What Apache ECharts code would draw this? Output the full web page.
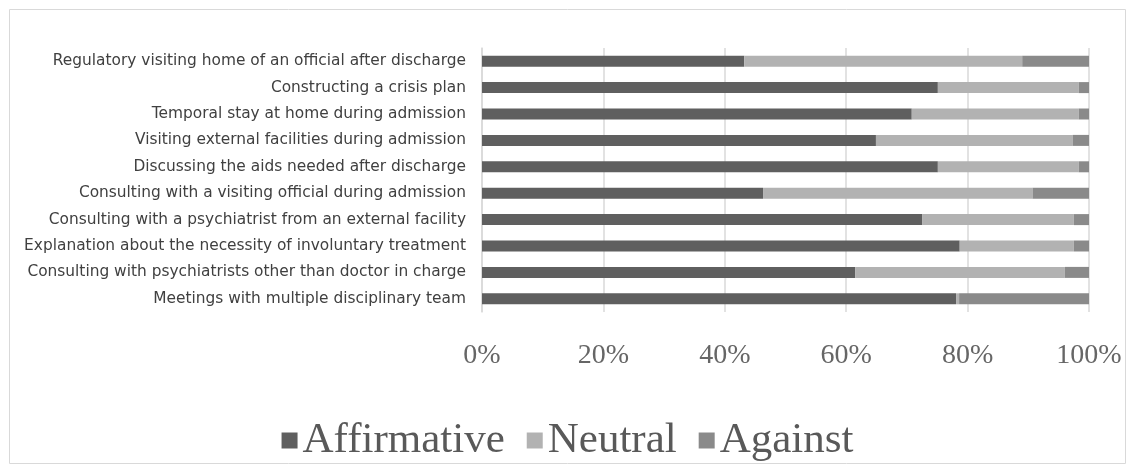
<!DOCTYPE html>
<html>
<head>
<meta charset="utf-8">
<script src="https://cdn.jsdelivr.net/npm/echarts@6/dist/echarts.min.js"></script>
<style>
  html, body { margin: 0; padding: 0; background: #fff; }
  #main { width: 1135px; height: 473px; }
</style>
</head>
<body>
<div id="main"></div>
<script>
var categories = [
    'Regulatory visiting home of an official after discharge',
    'Constructing a crisis plan',
    'Temporal stay at home during admission',
    'Visiting external facilities during admission',
    'Discussing the aids needed after discharge',
    'Consulting with a visiting official during admission',
    'Consulting with a psychiatrist from an external facility',
    'Explanation about the necessity of involuntary treatment',
    'Consulting with psychiatrists other than doctor in charge',
    'Meetings with multiple disciplinary team'
];

// percentages
var affirmative = [43.2, 75.1, 70.8, 64.9, 75.1, 46.3, 72.5, 78.7, 61.5, 78.1];
var neutral     = [45.8, 23.2, 27.5, 32.4, 23.2, 44.4, 25.0, 18.8, 34.5, 0.5];
var against     = [11.0, 1.7, 1.7, 2.7, 1.7, 9.3, 2.5, 2.5, 4.0, 21.4];

var seriesNames = ['Affirmative', 'Neutral', 'Against'];
var seriesColors = ['#5f5f5f', '#b2b2b2', '#8a8a8a'];
var seriesData = [affirmative, neutral, against];

var chartDom = document.getElementById('main');
var myChart = echarts.init(chartDom);
var option;

var serifFont = '"Liberation Serif", "DejaVu Serif", serif';

option = {
    animation: false,
    graphic: [{
        type: 'rect',
        shape: { x: 9.5, y: 9.5, width: 1116, height: 454 },
        style: { fill: null, stroke: '#d9d9d9', lineWidth: 1 },
        silent: true
    }],
    grid: {
        left: 482,
        right: 46,
        top: 48,
        bottom: 161
    },
    legend: {
        data: seriesNames,
        left: 'center',
        top: 414,
        icon: 'rect',
        itemWidth: 16,
        itemHeight: 16,
        itemGap: 22,
        textStyle: {
            fontFamily: serifFont,
            fontSize: 43,
            color: '#595959'
        }
    },
    xAxis: {
        type: 'value',
        min: 0,
        max: 100,
        interval: 20,
        axisLine: { show: false },
        axisTick: { show: false },
        splitLine: {
            lineStyle: { color: '#d9d9d9', width: 1.5 }
        },
        axisLabel: {
            formatter: '{value}%',
            margin: 30,
            fontFamily: serifFont,
            fontSize: 28,
            color: '#666666'
        }
    },
    yAxis: {
        type: 'category',
        data: categories,
        inverse: true,
        axisLine: {
            show: true,
            lineStyle: { color: '#d9d9d9', width: 1.5 }
        },
        axisTick: { show: false },
        axisLabel: {
            margin: 16,
            fontFamily: '"DejaVu Sans", sans-serif',
            fontSize: 15.4,
            color: '#404040'
        }
    },
    series: seriesNames.map(function (name, i) {
        return {
            name: name,
            type: 'bar',
            stack: 'total',
            barWidth: 11,
            itemStyle: { color: seriesColors[i] },
            data: seriesData[i]
        };
    })
};

option && myChart.setOption(option);
</script>
</body>
</html>
